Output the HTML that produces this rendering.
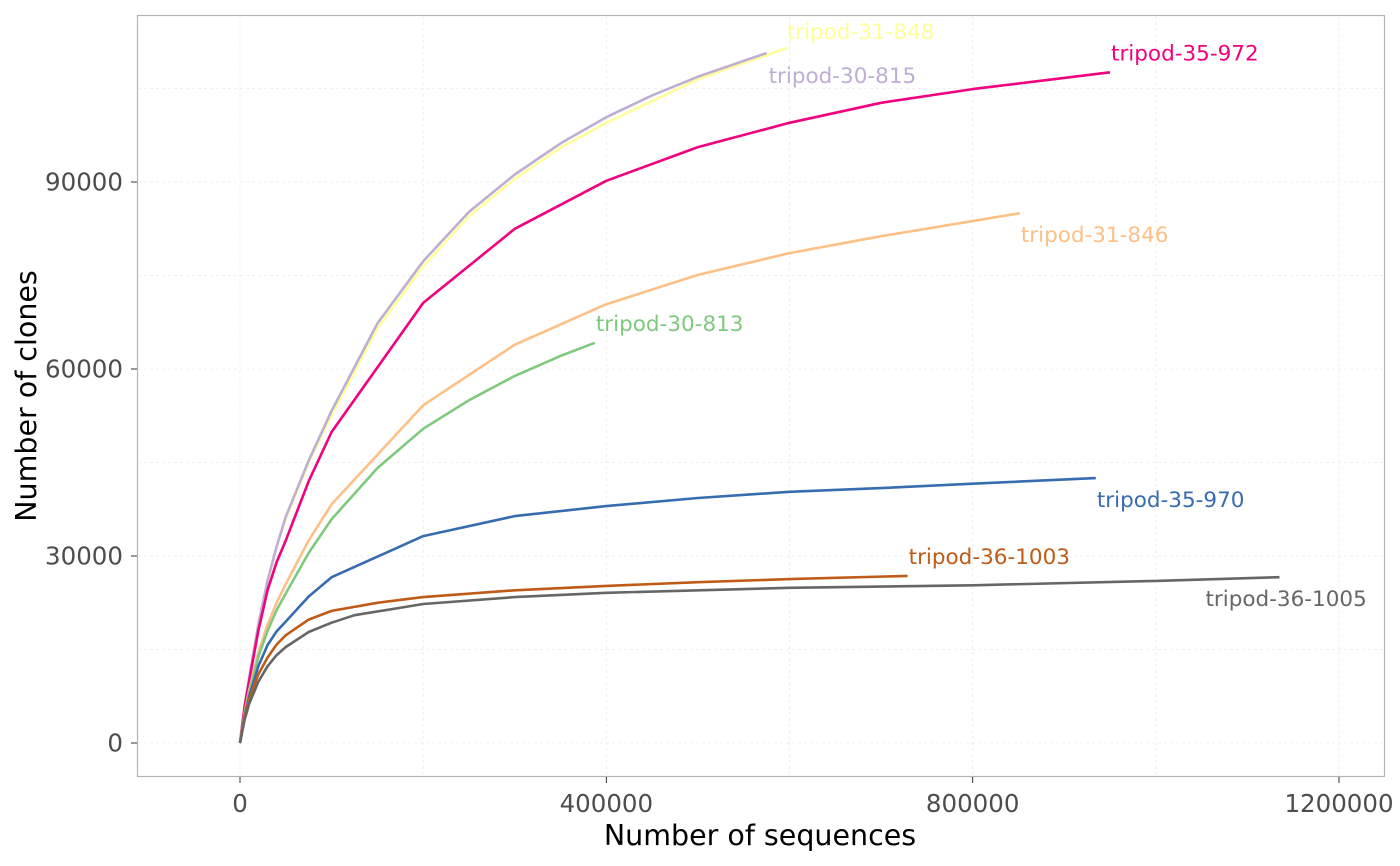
<!DOCTYPE html>
<html><head><meta charset="utf-8"><style>
body{margin:0;background:#fff;}
svg{display:block;font-family:"DejaVu Sans","Liberation Sans",sans-serif;}
</style></head><body>
<svg id="chart" width="1400" height="866">
<rect x="137.5" y="15.5" width="1247" height="761" fill="#fff" stroke="#b3b3b3" stroke-width="1.2"/>
<g id="grid"></g><g id="lines"></g><g id="labels"></g><g id="axes"></g>
<text x="760" y="845" text-anchor="middle" font-size="28.5" fill="#000">Number of sequences</text>
<text transform="translate(36,396) rotate(-90)" text-anchor="middle" font-size="28.5" fill="#000">Number of clones</text>
</svg>
<script>
const xTicks=[0,400000,800000,1200000];
const yTicks=[0,30000,60000,90000];
const xMinor=[200000,600000,1000000];
const yMinor=[15000,45000,75000,105000];
const seriesNames=["tripod-31-848","tripod-30-815","tripod-35-972","tripod-31-846","tripod-30-813","tripod-35-970","tripod-36-1003","tripod-36-1005"];
const seriesColors=["#FFFF99","#BEAED4","#F0027F","#FDC086","#7FC97F","#386CB0","#BF5B17","#666666"];
const x848=[0,5000,10000,20000,30000,40000,50000,75000,100000,150000,200000,250000,300000,350000,400000,500000,597000];
const y848=[0,6000,10500,19000,26000,31500,36000,45000,52600,66500,76500,84500,90500,95500,99500,106500,111500];
const x815=[0,5000,10000,20000,30000,40000,50000,75000,100000,150000,200000,250000,300000,350000,400000,450000,500000,575000];
const y815=[0,6000,10500,19000,26000,31500,36300,45300,53300,67300,77300,85200,91200,96200,100400,103900,106900,110700];
const x972=[0,5000,10000,20000,30000,40000,50000,75000,100000,200000,300000,400000,500000,600000,700000,800000,950000];
const y972=[0,5800,10000,18000,24500,29000,32500,42000,49900,70600,82500,90200,95600,99500,102700,104900,107600];
const x846=[0,5000,10000,20000,30000,40000,50000,75000,100000,200000,300000,400000,500000,600000,700000,851500];
const y846=[0,4800,8500,14500,19000,22500,25500,32500,38300,54200,63900,70400,75100,78600,81300,85000];
const x813=[0,5000,10000,20000,30000,40000,50000,75000,100000,150000,200000,250000,300000,350000,387500];
const y813=[0,4600,8000,13800,18000,21300,24000,30500,35900,44100,50400,55000,58900,62100,64200];
const x970=[0,5000,10000,20000,30000,40000,50000,75000,100000,200000,300000,400000,500000,600000,700000,800000,934500];
const y970=[0,4300,7500,12300,15700,17900,19500,23500,26600,33200,36400,38000,39300,40300,40900,41600,42500];
const x1003=[0,5000,10000,20000,30000,40000,50000,75000,100000,150000,200000,300000,400000,500000,600000,729000];
const y1003=[0,4200,7000,11000,13700,15800,17300,19800,21200,22500,23400,24500,25200,25800,26300,26800];
const x1005=[0,5000,10000,20000,30000,40000,50000,75000,100000,125000,200000,300000,400000,600000,800000,1000000,1135000];
const y1005=[0,3700,6300,9800,12300,14100,15400,17800,19300,20500,22300,23400,24100,24900,25300,26000,26600];
const seriesX=[x848,x815,x972,x846,x813,x970,x1003,x1005];
const seriesY=[y848,y815,y972,y846,y813,y970,y1003,y1005];
const labelDx=[0,2,1,1,1,1,1,-74];
const labelDy=[-9,30,-12,29,-12,29,-12,29];

const X=v=>240+v*(1099/1200000);
const Y=v=>743-v*(561/90000);
const NS="http://www.w3.org/2000/svg";
function mk(t,parent,attrs){const e=document.createElementNS(NS,t);for(const k in attrs)e.setAttribute(k,attrs[k]);parent.appendChild(e);return e;}
const grid=document.getElementById('grid'),lines=document.getElementById('lines'),labels=document.getElementById('labels'),axes=document.getElementById('axes');
xMinor.concat(xTicks).forEach(v=>{const l=mk('line',grid,{x1:X(v),x2:X(v),y1:16,y2:776,stroke:'#ebebeb','stroke-width':0.8,'stroke-dasharray':'3,3'});

});
yMinor.concat(yTicks).forEach(v=>{const l=mk('line',grid,{x1:138,x2:1384,y1:Y(v),y2:Y(v),stroke:'#ebebeb','stroke-width':0.8,'stroke-dasharray':'3,3'});

});
xTicks.forEach(v=>{const t=mk('line',axes,{x1:X(v),x2:X(v),y1:777,y2:783,stroke:'#333','stroke-width':1});


const tx=mk('text',axes,{x:X(v),y:812,'text-anchor':'middle','font-size':24.5,fill:'#4d4d4d'});tx.textContent=v;

});
yTicks.forEach(v=>{const t=mk('line',axes,{x1:131,x2:137,y1:Y(v),y2:Y(v),stroke:'#333','stroke-width':1});


const tx=mk('text',axes,{x:123,y:Y(v)+8.5,'text-anchor':'end','font-size':24.5,fill:'#4d4d4d'});tx.textContent=v;

});
seriesNames.forEach((n,i)=>{const xs=seriesX[i],ys=seriesY[i];
const d=xs.map((x,j)=>(j?'L':'M')+X(x).toFixed(1)+','+Y(ys[j]).toFixed(1)).join(' ');
const p=mk('path',lines,{d:d,fill:'none',stroke:seriesColors[i],'stroke-width':2.6,'stroke-linejoin':'round'});


const last=xs.length-1;
const t=mk('text',labels,{x:X(xs[last])+labelDx[i],y:Y(ys[last])+labelDy[i],'font-size':21.5,fill:seriesColors[i]});t.textContent=n;

});
</script>
</body></html>
